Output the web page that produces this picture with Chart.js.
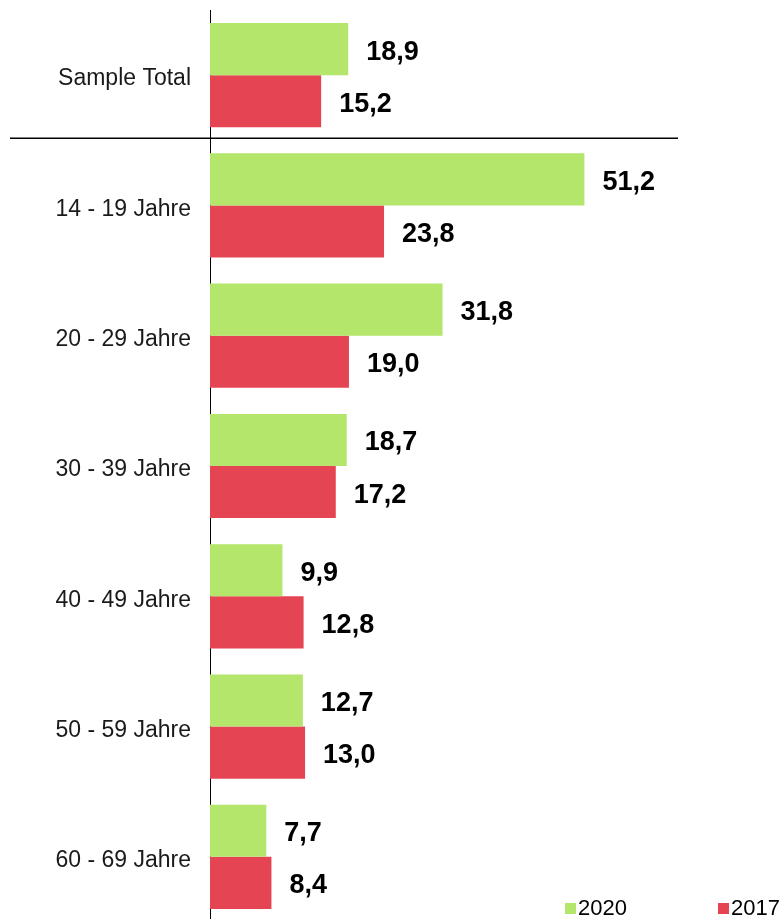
<!DOCTYPE html>
<html>
<head>
<meta charset="utf-8">
<script src="https://cdn.jsdelivr.net/npm/chart.js@4/dist/chart.umd.min.js"></script>
<style>
  html, body { margin: 0; padding: 0; background: #fff; overflow: hidden; }
  #wrap { width: 782px; height: 925px; }
</style>
</head>
<body>
<div id="wrap"><canvas id="chart" width="782" height="925"></canvas></div>
<script>
// data
const categories = ['Sample Total', '14 - 19 Jahre', '20 - 29 Jahre', '30 - 39 Jahre', '40 - 49 Jahre', '50 - 59 Jahre', '60 - 69 Jahre'];
const values2020 = [18.9, 51.2, 31.8, 18.7, 9.9, 12.7, 7.7];
const values2017 = [15.2, 23.8, 19.0, 17.2, 12.8, 13.0, 8.4];
const seriesLabels = ['2020', '2017'];
const seriesColors = ['#b3e66a', '#e54452'];

const FONT = 'Arial, "Liberation Sans", sans-serif';

// Wertebeschriftung rechts neben den Balken
const valueLabels = {
    id: 'valueLabels',
    afterDatasetsDraw(chart) {
        const ctx = chart.ctx;
        ctx.save();
        ctx.font = 'bold 27px ' + FONT;
        ctx.fillStyle = '#000';
        ctx.textAlign = 'left';
        ctx.textBaseline = 'middle';
        chart.data.datasets.forEach((ds, i) => {
            chart.getDatasetMeta(i).data.forEach((bar, j) => {
                const txt = ds.data[j].toFixed(1).replace('.', ',');
                ctx.fillText(txt, bar.x + 18, bar.y + 3);
            });
        });
        ctx.restore();
    }
};

// Trennlinie unter "Sample Total" und Legende unten rechts
const extras = {
    id: 'extras',
    afterDraw(chart) {
        const ctx = chart.ctx;
        const y = chart.scales.y;
        const sepY = (y.getPixelForValue(0) + y.getPixelForValue(1)) / 2 - 2;
        ctx.save();
        ctx.strokeStyle = '#000';
        ctx.lineWidth = 1.5;
        ctx.beginPath();
        ctx.moveTo(10, sepY);
        ctx.lineTo(chart.chartArea.right, sepY);
        ctx.stroke();

        const legendX = [565, 718];
        ctx.font = '22px ' + FONT;
        ctx.textBaseline = 'middle';
        ctx.textAlign = 'left';
        chart.data.datasets.forEach((ds, i) => {
            ctx.fillStyle = ds.backgroundColor;
            ctx.fillRect(legendX[i], 903, 11, 11);
            ctx.fillStyle = '#000';
            ctx.fillText(ds.label, legendX[i] + 13, 909);
        });
        ctx.restore();
    }
};

new Chart(document.getElementById('chart'), {
    type: 'bar',
    data: {
        labels: categories,
        datasets: [
            { label: seriesLabels[0], data: values2020, backgroundColor: seriesColors[0] },
            { label: seriesLabels[1], data: values2017, backgroundColor: seriesColors[1] }
        ]
    },
    options: {
        indexAxis: 'y',
        responsive: false,
        animation: false,
        layout: { padding: { top: 10, right: 104, bottom: 3, left: 0 } },
        datasets: { bar: { categoryPercentage: 0.8, barPercentage: 1.0 } },
        plugins: { legend: { display: false }, tooltip: { enabled: false } },
        scales: {
            x: { display: false, min: 0, max: 64 },
            y: {
                grid: { display: false },
                border: { display: true, color: '#000', width: 1 },
                ticks: { color: '#1a1a1a', font: { family: FONT, size: 23 }, padding: 11, labelOffset: 4 },
                afterFit(scale) {
                    scale.width = 210;
                    scale.paddingTop = 0;
                    scale.paddingBottom = 0;
                }
            }
        }
    },
    plugins: [valueLabels, extras]
});
</script>
</body>
</html>
